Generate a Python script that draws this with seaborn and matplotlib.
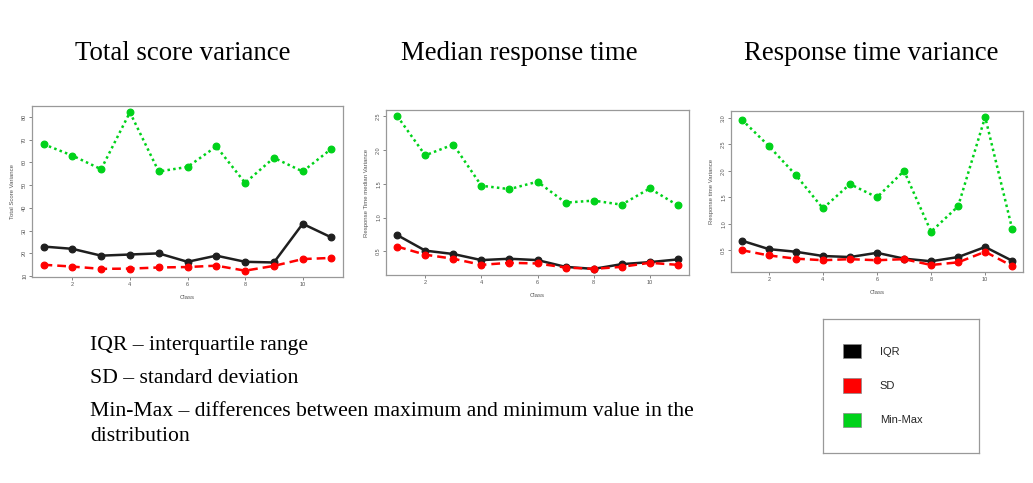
import numpy as np
import pandas as pd
import matplotlib
matplotlib.use("Agg")
import matplotlib.pyplot as plt
import seaborn as sns
from matplotlib.patches import Patch

# ---------------- data ----------------
classes = list(range(1, 12))

total_iqr = [23, 22, 19, 19.5, 20, 16.3, 19, 16.3, 16, 33, 27]
total_sd = [15, 14.2, 13.2, 13.3, 13.8, 14, 14.6, 12.4, 14.5, 17.5, 18]
total_minmax = [68, 63, 57, 82, 56, 58, 67, 51, 62, 56, 66]

median_iqr = [0.74, 0.51, 0.46, 0.37, 0.39, 0.37, 0.27, 0.24, 0.31, 0.34, 0.38]
median_sd = [0.57, 0.45, 0.39, 0.30, 0.33, 0.32, 0.26, 0.24, 0.27, 0.33, 0.30]
median_minmax = [2.50, 1.92, 2.08, 1.47, 1.42, 1.53, 1.22, 1.25, 1.19, 1.43, 1.18]

rtvar_iqr = [0.68, 0.52, 0.47, 0.39, 0.37, 0.45, 0.34, 0.29, 0.37, 0.56, 0.30]
rtvar_sd = [0.50, 0.40, 0.34, 0.31, 0.33, 0.31, 0.33, 0.22, 0.27, 0.47, 0.20]
rtvar_minmax = [2.97, 2.47, 1.92, 1.29, 1.75, 1.50, 2.00, 0.85, 1.33, 3.02, 0.90]

measures = ["IQR", "SD", "Min-Max"]
panel_titles = ["Total score variance", "Median response time", "Response time variance"]
y_labels = ["Total Score Variance", "Response Time median Variance", "Response time Variance"]
x_label = "Class"
y_ticks = [[10, 20, 30, 40, 50, 60, 70, 80],
           [0.5, 1.0, 1.5, 2.0, 2.5],
           [0.5, 1.0, 1.5, 2.0, 2.5, 3.0]]
x_ticks = [2, 4, 6, 8, 10]

notes = ["IQR \u2013 interquartile range",
         "SD \u2013 standard deviation",
         "Min-Max \u2013 differences between maximum and minimum value in the",
         "distribution"]

panels_data = [
    {"IQR": total_iqr, "SD": total_sd, "Min-Max": total_minmax},
    {"IQR": median_iqr, "SD": median_sd, "Min-Max": median_minmax},
    {"IQR": rtvar_iqr, "SD": rtvar_sd, "Min-Max": rtvar_minmax},
]

colors = {"IQR": "#1f1f1f", "SD": "#ff0000", "Min-Max": "#00d21a"}
styles = {"IQR": "-", "SD": (0, (3.5, 2)), "Min-Max": (0, (1, 1.3))}

# ---------------- figure ----------------
sns.set_theme(style="white")
plt.rcParams['font.family'] = ['Liberation Serif', 'DejaVu Serif']

W, H = 1033, 483
fig = plt.figure(figsize=(W / 100, H / 100), dpi=100)
fig.patch.set_facecolor("white")

# panel boxes in pixels: left, right, top, bottom
boxes = [(32, 343, 106, 277), (386, 689, 110, 275), (731, 1023, 111, 272)]
title_centers = [183, 519, 871]
sans = ["Liberation Sans", "DejaVu Sans"]

for i, (l, r, t, b) in enumerate(boxes):
    ax = fig.add_axes([l / W, (H - b) / H, (r - l) / W, (b - t) / H])
    rows = []
    for m in measures:
        for c, v in zip(classes, panels_data[i][m]):
            rows.append({"Class": c, "value": v, "measure": m})
    df = pd.DataFrame(rows)
    for m in ["IQR", "SD", "Min-Max"]:
        sub = df[df["measure"] == m]
        sns.lineplot(data=sub, x="Class", y="value", ax=ax, color=colors[m],
                     linestyle=styles[m], linewidth=1.8, marker="o",
                     markersize=4.8, markeredgecolor=colors[m],
                     markeredgewidth=0.9, legend=False)
    ax.margins(x=0.04, y=0.04)
    ax.set_xticks(x_ticks)
    ax.set_yticks(y_ticks[i])
    ax.set_yticklabels([f"{v:g}" if i == 0 else f"{v:.1f}" for v in y_ticks[i]])
    ax.tick_params(axis="both", direction="out", length=2, width=0.5,
                   labelsize=4, colors="#555555", pad=1.5, bottom=True, left=True)
    ax.tick_params(axis="y", labelrotation=90)
    for lab in ax.get_yticklabels():
        lab.set_verticalalignment("center")
        lab.set_family(sans)
    for lab in ax.get_xticklabels():
        lab.set_family(sans)
    ax.set_xlabel(x_label, fontsize=4.3, color="#555555", labelpad=6, family=sans)
    ax.set_ylabel(y_labels[i], fontsize=4.3, color="#555555", labelpad=5, family=sans)
    for s in ax.spines.values():
        s.set_color("#999999")
        s.set_linewidth(0.9)
    ax.grid(False)
    fig.text(title_centers[i] / W, 1 - 60 / H, panel_titles[i], ha="center",
             va="baseline", fontsize=19.4, color="black")

# notes text
baselines = [350, 383, 416, 441]
for txt, yb in zip(notes, baselines):
    fig.text(90 / W, 1 - yb / H, txt, ha="left", va="baseline",
             fontsize=15.6, color="black")

# legend box
lx0, lx1, ly0, ly1 = 823, 979, 319, 453
lax = fig.add_axes([lx0 / W, (H - ly1) / H, (lx1 - lx0) / W, (ly1 - ly0) / H])
lax.set_xticks([])
lax.set_yticks([])
lax.set_facecolor("white")
for s in lax.spines.values():
    s.set_color("#999999")
    s.set_linewidth(0.9)
handles = [Patch(facecolor=("black" if m == "IQR" else colors[m]),
                 edgecolor="#888888", linewidth=0.5, label=m) for m in measures]
lax.legend(handles=handles, loc="upper left",
           bbox_to_anchor=(20 / (lx1 - lx0), 1 - 25 / (ly1 - ly0)),
           frameon=False, borderpad=0, borderaxespad=0,
           handlelength=1.6, handleheight=1.6, handletextpad=1.7,
           labelspacing=1.8,
           prop={"family": sans, "size": 8})

fig.savefig("out.png", dpi=100, facecolor="white")
